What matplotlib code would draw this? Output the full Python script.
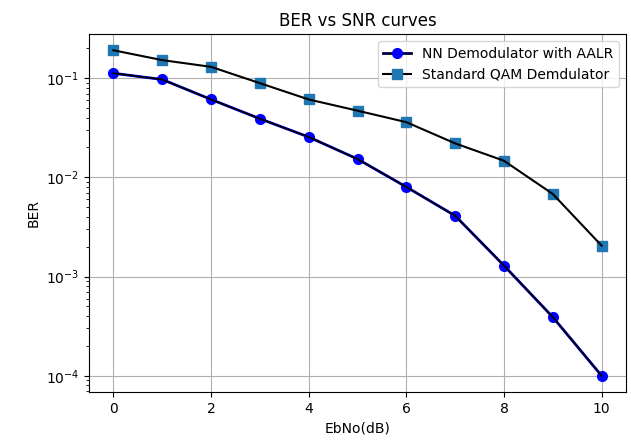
import numpy as np
import matplotlib.pyplot as plt

# BER curves
ebno_db = [0, 1, 2, 3, 4, 5, 6, 7, 8, 9, 10]
ber_nn = [0.112, 0.097, 0.061, 0.039, 0.0255, 0.0153, 0.0080, 0.0041, 0.00129, 0.00039, 0.0001]
ber_qam = [0.191, 0.152, 0.130, 0.089, 0.061, 0.047, 0.036, 0.022, 0.0147, 0.0068, 0.00205]

fig = plt.figure(figsize=(6.31, 4.48), dpi=100)
ax = fig.add_axes([89 / 631, 1 - 392 / 448, (626 - 89) / 631, (392 - 34) / 448])

# blue markers with a dark line on top
ax.semilogy(ebno_db, ber_nn, "bo-", markersize=7, linewidth=2)
ax.semilogy(ebno_db, ber_nn, color="black", linewidth=1.3)
ax.semilogy(ebno_db, ber_qam, color="#1f77b4", marker="s", markersize=7, linestyle="none")
ax.semilogy(ebno_db, ber_qam, color="black", linewidth=1.5)

from matplotlib.lines import Line2D
handles = [
    Line2D([], [], color="#000040", marker="o", markerfacecolor="blue",
           markeredgecolor="blue", markersize=7, linewidth=2),
    Line2D([], [], color="black", marker="s", markerfacecolor="#1f77b4",
           markeredgecolor="#1f77b4", markersize=7, linewidth=1.5),
]
ax.legend(handles, ["NN Demodulator with AALR", "Standard QAM Demdulator"],
          loc="upper right")

ax.set_title("BER vs SNR curves")
ax.set_xlabel("EbNo(dB)")
ax.set_ylabel("BER")
ax.grid(True)

fig.savefig("out.png", dpi=100)
